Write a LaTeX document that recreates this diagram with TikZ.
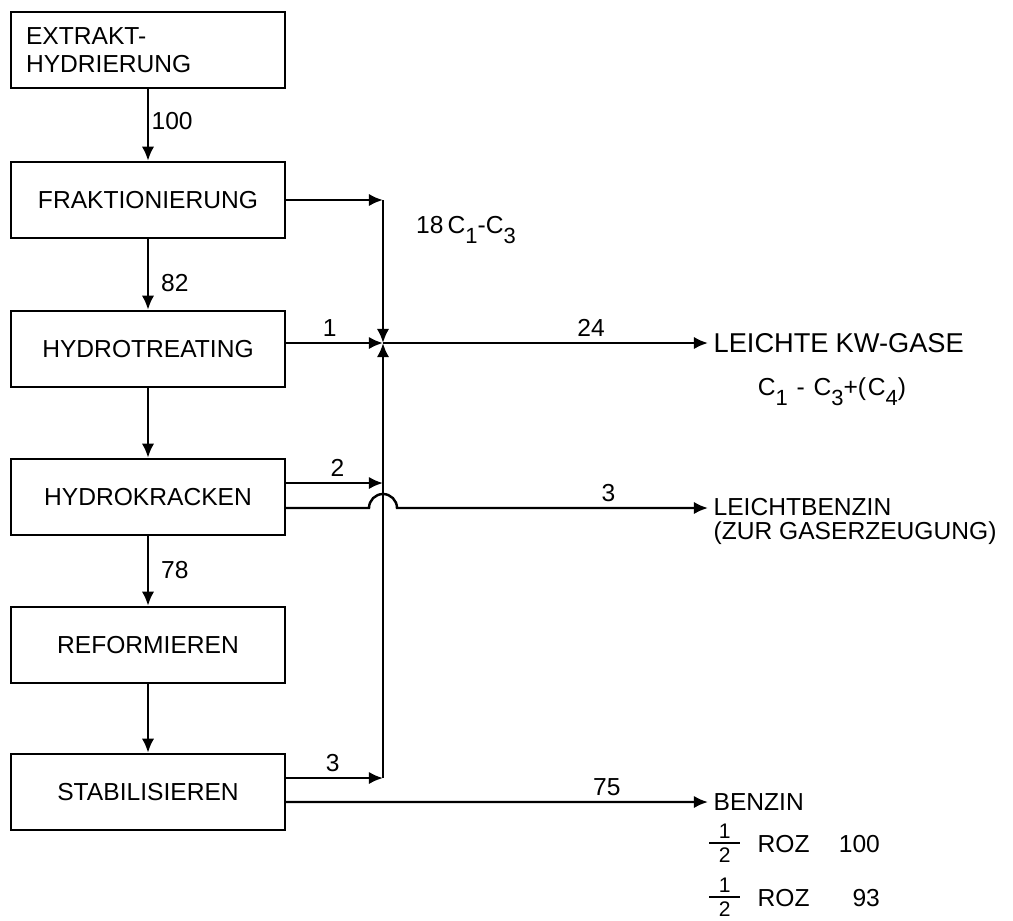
\documentclass[tikz,border=0pt]{standalone}
\usepackage{amsmath}
\usepackage{fontspec}
\setmainfont{Liberation Sans}
\usetikzlibrary{arrows.meta}
\newcommand{\csub}[1]{\raisebox{-0.75ex}{\fontsize{12.5}{12.5}\selectfont #1}}
\newcommand{\halfroz}{\raisebox{-5.5pt}{\fontsize{12}{12}\selectfont\shortstack{1\\[-1pt]\rule{0.62cm}{1.2pt}\\[-1pt]2}}}

\begin{document}
\begin{tikzpicture}[x=0.02cm,y=0.02cm,font=\fontsize{14}{16}\selectfont,
    unit/.style={draw,line width=1.4pt,text width=4.88cm,inner xsep=0.3cm,
      minimum height=1.52cm,align=center},
    flow/.style={-{Latex[length=8pt,width=7pt]},line width=1.4pt},
    lbl/.style={above,inner sep=3pt}]
  \useasboundingbox (0,0) rectangle (1013,-920);
  % process chain
  \node[unit,align=left] (ext) at (148,-50) {EXTRAKT-\\HYDRIERUNG};
  \node[unit] (frak) at (148,-200) {FRAKTIONIERUNG};
  \node[unit] (hydrot) at (148,-349) {HYDROTREATING};
  \node[unit] (hydrok) at (148,-497) {HYDROKRACKEN};
  \node[unit] (reform) at (148,-645) {REFORMIEREN};
  \node[unit] (stab) at (148,-792) {STABILISIEREN};
  \draw[flow] (ext) -- node[right,pos=.45,xshift=-2pt] {100} (frak);
  \draw[flow] (frak) -- node[right,pos=.62,xshift=0.12cm] {82} (hydrot);
  \draw[flow] (hydrot) -- (hydrok);
  \draw[flow] (hydrok) -- node[right,pos=.48,xshift=0.12cm] {78} (reform);
  \draw[flow] (reform) -- (stab);
  % products
  \node[anchor=west,inner sep=3pt,font=\fontsize{15.5}{17}\selectfont] (gas) at (708,-343) {LEICHTE\hspace{4pt}KW-GASE};
  \node (gasf) at (832,-392) {C\csub{1}\hspace{5pt}-\hspace{5pt}C\csub{3}+(\hspace{1pt}C\csub{4})};
  \node[anchor=west,inner sep=3pt] (lbz) at (708,-507) {LEICHTBENZIN};
  \node[anchor=north west,inner xsep=3pt,inner ysep=0pt] (lbzz) at (lbz.south west) {(ZUR GASERZEUGUNG)};
  \node[anchor=west,inner sep=3pt] (benz) at (708,-802) {BENZIN};
  \node[anchor=west,inner sep=1pt] (roz1) at (707,-843) {\halfroz\hspace{10pt}ROZ\makebox[40pt][r]{100}};
  \node[anchor=west,inner sep=1pt] (roz2) at (707,-897) {\halfroz\hspace{10pt}ROZ\makebox[40pt][r]{93}};
  \node (c13) at (466,-230) {18\,C\csub{1}-C\csub{3}};
  % collector
  \coordinate (jn) at (383,-343);
  \coordinate (ctop) at (frak.east -| jn);
  \coordinate (hk1) at ([yshift=0.28cm]hydrok.east);
  \coordinate (hk2) at ([yshift=-0.22cm]hydrok.east);
  \coordinate (st1) at ([yshift=0.28cm]stab.east);
  \coordinate (st2) at ([yshift=-0.2cm]stab.east);
  \coordinate (hop) at (hk2 -| jn);
  \coordinate (cbot) at (st1 -| jn);
  \draw[flow] (frak.east) -- (ctop);
  \draw[flow] (ctop) -- (jn);
  \draw[flow] (hydrot.east |- jn) -- node[lbl,pos=.45] {1} (jn);
  \draw[flow] (cbot) -- (jn);
  \draw[flow] (jn) -- node[lbl,pos=.64] {24} (gas.west);
  \draw[flow] (hk1) -- node[lbl,pos=.53] {2} (hk1 -| jn);
  \draw[flow] (hk2) -- ([xshift=-0.28cm]hop) arc (180:0:0.28cm)
    -- node[lbl,pos=.68] {3} (lbz.west |- hk2);
  \draw[flow] (st1) -- node[lbl,pos=.48] {3} (cbot);
  \draw[flow] (st2) -- node[lbl,pos=.76] {75} (benz.west);
\end{tikzpicture}
\end{document}
